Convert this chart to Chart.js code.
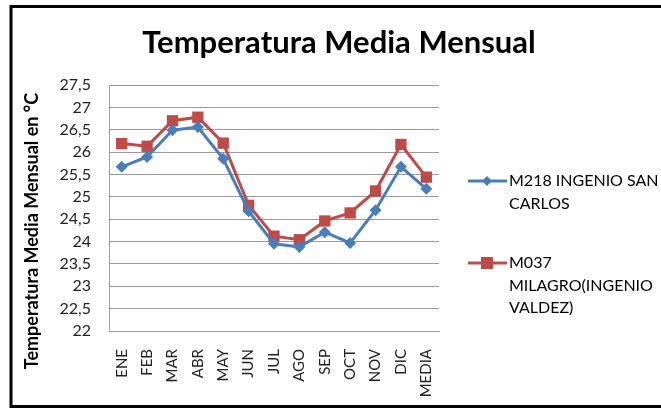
<!DOCTYPE html>
<html>
<head>
<meta charset="utf-8">
<script src="https://cdn.jsdelivr.net/npm/chart.js@4.4.0/dist/chart.umd.min.js"></script>
<style>
  html, body { margin: 0; padding: 0; background: #fff; }
  #wrap { width: 661px; height: 408px; position: relative; }
</style>
</head>
<body>
<div id="wrap"><canvas id="chartTemp" width="661" height="408"></canvas></div>
<script>
const meses = ['ENE', 'FEB', 'MAR', 'ABR', 'MAY', 'JUN', 'JUL', 'AGO', 'SEP', 'OCT', 'NOV', 'DIC', 'MEDIA'];
const sanCarlos = [25.67, 25.89, 26.49, 26.56, 25.85, 24.68, 23.95, 23.88, 24.21, 23.97, 24.70, 25.67, 25.18];
const milagro = [26.19, 26.13, 26.70, 26.78, 26.20, 24.81, 24.12, 24.04, 24.46, 24.64, 25.13, 26.17, 25.44];
const serieNombres = [['M218 INGENIO SAN', 'CARLOS'], ['M037', 'MILAGRO(INGENIO', 'VALDEZ)']];
const yMin = 22, yMax = 27.5, yStep = 0.5;

const FONT = 'Lato, "Open Sans", sans-serif';

// marco, titulo, titulo del eje y leyenda dibujados a mano
const extras = {
  id: 'extras',
  afterDraw(chart) {
    const ctx = chart.ctx;
    ctx.save();
    ctx.strokeStyle = '#000';
    ctx.lineWidth = 3;
    ctx.strokeRect(11, 6.5, 700, 400);

    ctx.fillStyle = '#000';
    ctx.font = 'bold 31px ' + FONT;
    ctx.textAlign = 'center';
    ctx.textBaseline = 'alphabetic';
    ctx.fillText('Temperatura Media Mensual', 339, 53);

    ctx.save();
    ctx.translate(38, 231);
    ctx.rotate(-Math.PI / 2);
    ctx.font = 'bold 18px ' + FONT;
    ctx.fillText('Temperatura Media Mensual en °C', 0, 0);
    ctx.restore();

    // leyenda
    const ys = [181, 263];
    chart.data.datasets.forEach((ds, i) => {
      const y = ys[i];
      ctx.strokeStyle = ds.borderColor;
      ctx.lineWidth = 3;
      ctx.beginPath();
      ctx.moveTo(468, y);
      ctx.lineTo(507, y);
      ctx.stroke();
      ctx.fillStyle = ds.backgroundColor;
      ctx.beginPath();
      if (ds.pointStyle === 'rectRot') {
        ctx.moveTo(487, y - 5); ctx.lineTo(492, y); ctx.lineTo(487, y + 5); ctx.lineTo(482, y);
      } else {
        ctx.rect(481, y - 6, 12, 12);
      }
      ctx.closePath();
      ctx.fill();
      ctx.fillStyle = '#000';
      ctx.font = '16px ' + FONT;
      ctx.textAlign = 'left';
      ctx.textBaseline = 'middle';
      serieNombres[i].forEach((t, k) => ctx.fillText(t, 509, y + k * 22.5));
    });
    ctx.restore();
  }
};

new Chart(document.getElementById('chartTemp'), {
  type: 'line',
  data: {
    labels: meses,
    datasets: [{
      label: serieNombres[0].join(' '),
      data: sanCarlos,
      borderColor: '#4A7EBB',
      backgroundColor: '#4A7EBB',
      borderWidth: 3,
      pointStyle: 'rectRot',
      pointRadius: 6,
      pointBorderWidth: 0,
      tension: 0
    }, {
      label: serieNombres[1].join(' '),
      data: milagro,
      borderColor: '#BE4B48',
      backgroundColor: '#BE4B48',
      borderWidth: 3,
      pointStyle: 'rect',
      pointRadius: 8,
      pointBorderWidth: 0,
      tension: 0
    }]
  },
  options: {
    responsive: false,
    animation: false,
    layout: { padding: { left: 11, top: 85, right: 222, bottom: 0 } },
    plugins: { legend: { display: false }, title: { display: false }, tooltip: { enabled: false } },
    scales: {
      x: {
        offset: true,
        grid: { display: false, drawTicks: false },
        border: { color: '#A0A0A0', width: 1 },
        ticks: {
          color: '#222',
          font: { family: FONT, size: 15 },
          minRotation: 90,
          maxRotation: 90,
          padding: 18,
          autoSkip: false
        },
        afterFit(scale) { scale.height = 77; }
      },
      y: {
        min: yMin,
        max: yMax,
        grid: { color: '#9A9A9A', lineWidth: 1, drawTicks: false },
        border: { color: '#A0A0A0', width: 1 },
        ticks: {
          stepSize: yStep,
          color: '#222',
          font: { family: FONT, size: 16 },
          padding: 18,
          callback: v => String(v).replace('.', ',')
        },
        afterFit(scale) { scale.width = 98; }
      }
    }
  },
  plugins: [extras]
});
</script>
</body>
</html>
